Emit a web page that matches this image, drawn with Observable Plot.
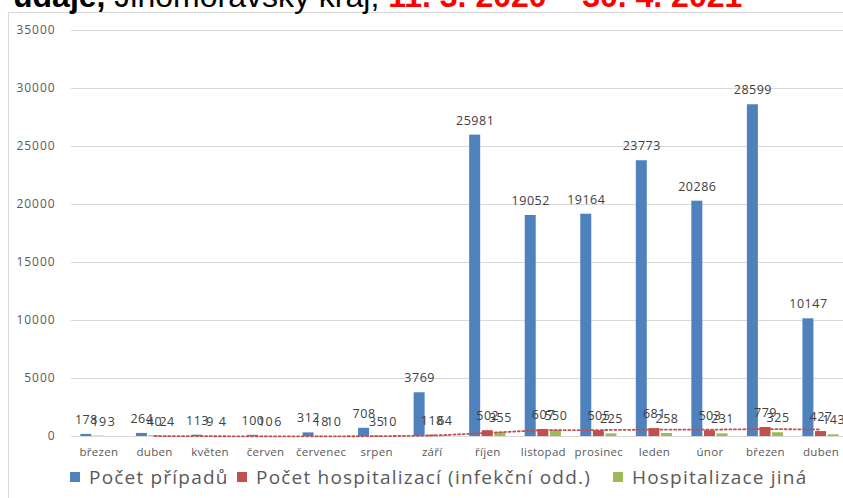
<!DOCTYPE html>
<html><head><meta charset="utf-8">
<script src="https://cdn.jsdelivr.net/npm/d3@7"></script>
<script src="https://cdn.jsdelivr.net/npm/@observablehq/plot@0.6"></script>
<style>
html,body{margin:0;padding:0;background:#fff;}
body{width:843px;height:498px;overflow:hidden;position:relative;font-family:"Open Sans",sans-serif;}
#title{position:absolute;left:13px;top:-20px;font-family:"Liberation Sans",Arial,sans-serif;font-size:32px;line-height:32px;white-space:nowrap;color:#000;}
#title .red{color:#ff0000;font-weight:bold;}
#frame{position:absolute;left:8px;top:12px;width:900px;height:600px;border-left:1px solid #d9d9d9;border-top:1px solid #d9d9d9;}
#chart{position:absolute;left:9px;top:13px;width:852px;}
#chart svg{overflow:visible;max-width:none !important;width:852px;height:451px;}
#chart g[aria-label="x-axis tick label"]{font-size:11.5px;letter-spacing:0.3px;}
#chart g[aria-label="y-axis tick label"]{font-size:12px;letter-spacing:1px;}
#chart g[aria-label="text"]{letter-spacing:0.5px;}
.leg{position:absolute;top:466px;height:22px;display:flex;align-items:center;font-size:19px;letter-spacing:1.2px;color:#595959;white-space:nowrap;}
.leg i{display:inline-block;width:10px;height:10px;margin-right:9px;}
</style></head>
<body>
<div id="frame"></div>
<div id="title"><b>údaje,</b> Jihomoravský kraj, <span class="red">11. 3. 2020 – 30. 4. 2021</span></div>
<div id="chart"></div>
<div id="legend"></div>
<script>
const months = ["březen","duben","květen","červen","červenec","srpen","září","říjen","listopad","prosinec","leden","únor","březen","duben"];
const cases = [178, 264, 113, 100, 312, 708, 3769, 25981, 19052, 19164, 23773, 20286, 28599, 10147];
const hospInfect = [19, 40, 9, 10, 18, 35, 118, 502, 607, 505, 681, 503, 779, 427];
const hospOther = [3, 24, 4, 6, 10, 10, 64, 355, 550, 225, 258, 231, 325, 143];
const yTicks = [0, 5000, 10000, 15000, 20000, 25000, 30000, 35000];
const seriesNames = ["Počet případů", "Počet hospitalizací (infekční odd.)", "Hospitalizace jiná"];
const seriesColors = ["#4F81BD", "#C0504D", "#9BBB59"];

const rows = months.map((m, i) => ({i, month: m, cases: cases[i], inf: hospInfect[i], other: hospOther[i]}));
const off = 12.6;
const lblDy = -14.5;

const chart = Plot.plot({
  width: 852, height: 451,
  marginLeft: 61.7, marginRight: 12.7, marginTop: 17, marginBottom: 28,
  style: {fontFamily: "Open Sans", fontSize: "12px", color: "#595959", background: "transparent"},
  x: {domain: rows.map(d => d.i), paddingInner: 0.802, paddingOuter: 0.401, round: false, label: null},
  y: {domain: [0, 35000], label: null},
  marks: [
    Plot.gridY(yTicks, {stroke: "#d9d9d9", strokeOpacity: 1, strokeWidth: 1}),
    Plot.axisY(yTicks, {tickSize: 0, tickPadding: 15.5, label: null, tickFormat: d => String(d)}),
    Plot.axisX({tickSize: 0, tickPadding: 11, label: null, tickFormat: i => months[i]}),
    Plot.barY(rows, {x: "i", y: "cases", fill: seriesColors[0], dx: -off}),
    Plot.barY(rows, {x: "i", y: "inf", fill: seriesColors[1]}),
    Plot.barY(rows, {x: "i", y: "other", fill: seriesColors[2], dx: off}),
    Plot.lineY(rows, Plot.windowY({k: 2, anchor: "end", strict: true}, {x: "i", y: "inf", stroke: seriesColors[1], strokeWidth: 1.8, strokeDasharray: "2 2.6"})),
    Plot.text(rows, {x: "i", y: "cases", text: d => String(d.cases), dx: -off, dy: lblDy, fill: "#404040", fontSize: 12.5}),
    Plot.text(rows, {x: "i", y: "inf", text: d => String(d.inf), dy: lblDy, fill: "#404040", fontSize: 12.5}),
    Plot.text(rows, {x: "i", y: "other", text: d => String(d.other), dx: off, dy: lblDy, fill: "#404040", fontSize: 12.5})
  ]
});
document.getElementById("chart").appendChild(chart);

const legendLeft = [70, 237, 613];
const legend = document.getElementById("legend");
seriesNames.forEach((name, k) => {
  const item = document.createElement("div");
  item.className = "leg";
  item.style.left = legendLeft[k] + "px";
  const sw = document.createElement("i");
  sw.style.background = seriesColors[k];
  item.appendChild(sw);
  item.appendChild(document.createTextNode(name));
  legend.appendChild(item);
});
</script>
</body></html>
